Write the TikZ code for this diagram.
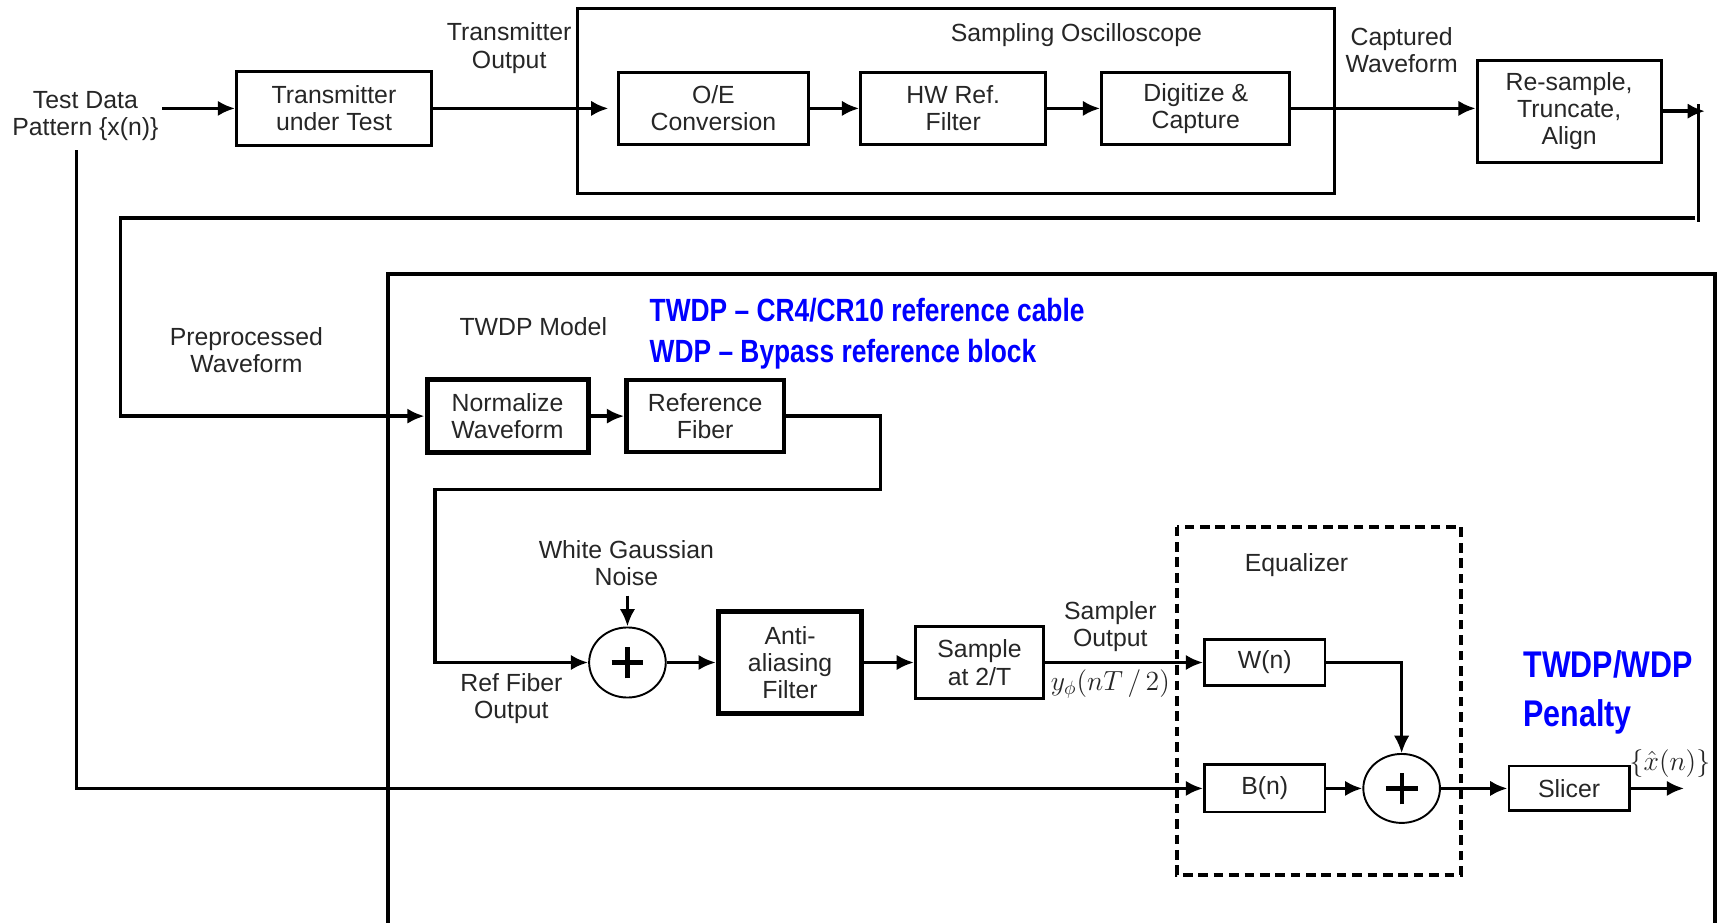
\documentclass[tikz,border=0pt]{standalone}
\usepackage{fontspec}
\setmainfont{Liberation Sans}
\newfontfamily\bluefont[FakeStretch=0.82]{Liberation Sans}
\usetikzlibrary{arrows.meta,shapes.geometric}
\newcommand\labfont{\fontsize{12.9}{14.2}\selectfont}
\definecolor{txtgray}{gray}{0.15}
\definecolor{pblue}{rgb}{0,0,1}
\begin{document}
\begin{tikzpicture}[x=0.02cm,y=-0.02cm,
  box/.style={draw, line width=1.5pt, align=center, inner sep=0pt, font=\labfont, text=txtgray},
  thickbox/.style={box, line width=2.6pt},
  lbl/.style={align=center, inner sep=0pt, font=\labfont, text=txtgray},
  conn/.style={line width=1.9pt, -{Latex[length=9pt,width=8pt]}},
  plain/.style={line width=1.9pt},
  sumnode/.style={ellipse, draw, line width=1pt, minimum width=1.4cm, minimum height=1.28cm, inner sep=0pt},
  bluelbl/.style={inner sep=0pt, align=left, text=pblue}
]
\useasboundingbox (0,0) rectangle (1568,842);

% ---------- top row ----------
\node[lbl] (td) at (78,106) {Test Data\\Pattern \{x(n)\}};
\node[box, minimum width=3.56cm, minimum height=1.34cm] (tx) at (305,99) {Transmitter\\under Test};
\node[lbl] (txo) at (465,44) {Transmitter\\Output};
\draw[line width=1.5pt] (527,8) rectangle (1219,177);
\node[lbl] (so) at (983,32) {Sampling Oscilloscope};
\node[box, minimum width=3.46cm, minimum height=1.32cm] (oe) at (651.5,99) {O/E\\Conversion};
\node[box, minimum width=3.38cm, minimum height=1.32cm] (hw) at (870.5,99) {HW Ref.\\Filter};
\node[box, minimum width=3.44cm, minimum height=1.32cm] (dig) at (1092,99) {Digitize \&\\Capture};
\node[lbl] (cw) at (1280,46) {Captured\\Waveform};
\node[box, minimum width=3.36cm, minimum height=1.86cm] (rs) at (1433,101.5) {Re-sample,\\Truncate,\\Align};

\coordinate (tdo) at (148,99);
\draw[conn] (tdo) -- (tx.west);
\draw[conn, shorten >=0.16cm] (tx.east) -- (oe.west);
\draw[conn] (oe.east) -- (hw.west);
\draw[conn] (hw.east) -- (dig.west);
\draw[conn] (dig.east) -- (dig.east -| rs.west);
\coordinate (rsout) at (1557,101.5);
\draw[conn] (rs.east) -- (rsout);

% return path
\coordinate (v1) at (1551,95);
\coordinate (v2) at (1551,203);
\draw[plain] (v1) -- (v2);
\coordinate (h1) at (1548,199);
\coordinate (h2) at (110,199);

% ---------- TWDP model box ----------
\draw[line width=2.2pt] (354,870) -- (354,250) -- (1566,250) -- (1566,870);
\node[lbl] (pw) at (225,320) {Preprocessed\\Waveform};
\node[lbl] (tm) at (487,298) {TWDP Model};
\node[bluelbl, anchor=west, font=\bluefont\bfseries\fontsize{16.7}{21.3}\selectfont] (bl1) at (593,305)
  {TWDP – CR4/CR10 reference cable\\WDP – Bypass reference block};

\node[thickbox, minimum width=2.94cm, minimum height=1.32cm] (norm) at (463.5,380) {Normalize\\Waveform};
\node[thickbox, line width=2.3pt, minimum width=2.88cm, minimum height=1.32cm] (ref) at (644,380) {Reference\\Fiber};

\draw[conn] (h1) -- (h2) |- (norm.west);
\draw[conn] (norm.east) -- (ref.west);

\node[sumnode] (s1) at (573,605) {};
\draw[line width=2.2pt] ([xshift=-0.29cm]s1.center) -- ([xshift=0.29cm]s1.center);
\draw[line width=2.2pt] ([yshift=-0.29cm]s1.center) -- ([yshift=0.29cm]s1.center);
\node[lbl] (wgn) at (572,514) {White Gaussian\\Noise};
\node[lbl] (rfo) at (467,638) {Ref Fiber\\Output};

\coordinate (r1) at (804,447);
\coordinate (r2) at (397,447);
\draw[conn] (ref.east) -| (r1) -- (r2) |- (s1.west);
\coordinate (wgnb) at (573,544);
\draw[conn] (wgnb) -- (s1.north);

\node[thickbox, minimum width=2.62cm, minimum height=1.86cm] (aa) at (721.5,605) {Anti-\\aliasing\\Filter};
\node[box, minimum width=2.34cm, minimum height=1.32cm] (samp) at (894.5,605) {Sample\\at 2/T};
\draw[conn] (s1.east) -- (aa.west);
\draw[conn] (aa.east) -- (samp.west);

\node[lbl] (sout) at (1014,572) {Sampler\\Output};
\node[lbl, font=\fontsize{14}{16}\selectfont] (yphi) at (1014,625) {$y_{\phi}(nT\,/\,2)$};

% ---------- equalizer ----------
\draw[line width=2pt, dash pattern=on 5pt off 3pt] (1075,481) rectangle (1334,799);
\node[lbl] (eql) at (1184,516) {Equalizer};
\node[box, minimum width=2.2cm, minimum height=0.84cm] (wn) at (1155,605) {W(n)};
\node[box, minimum width=2.2cm, minimum height=0.86cm] (bn) at (1155,720) {B(n)};
\node[sumnode, minimum height=1.26cm] (s2) at (1280,720) {};
\draw[line width=2.2pt] ([xshift=-0.29cm]s2.center) -- ([xshift=0.29cm]s2.center);
\draw[line width=2.2pt] ([yshift=-0.29cm]s2.center) -- ([yshift=0.29cm]s2.center);

\draw[conn] (samp.east) -- (wn.west);
\draw[line width=1.2pt, -{Latex[length=9pt,width=8pt]}] (wn.east) -| (s2.north);
\draw[conn] (bn.east) -- (s2.west);

\node[box, minimum width=2.2cm, minimum height=0.82cm] (sl) at (1433,720) {Slicer};
\draw[conn] (s2.east) -- (sl.west);
\coordinate (out) at (1538,720);
\draw[conn] (sl.east) -- (out);
\node[lbl, font=\fontsize{14}{16}\selectfont] (xh) at (1525,697) {$\{\hat{x}(n)\}$};

\node[bluelbl, anchor=west, font=\bluefont\bfseries\fontsize{19.3}{25.6}\selectfont] (pen) at (1391,632) {TWDP/WDP\\Penalty};

% test data line to B(n)
\coordinate (tdd) at (70,137);
\draw[conn] (tdd) |- (bn.west);
\end{tikzpicture}
\end{document}
